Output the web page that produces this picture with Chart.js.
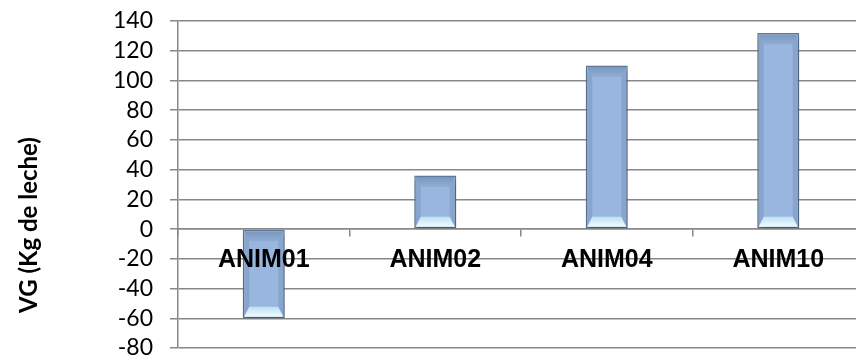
<!DOCTYPE html>
<html>
<head>
<meta charset="utf-8">
<script src="https://cdn.jsdelivr.net/npm/chart.js@4/dist/chart.umd.min.js"></script>
<style>
  html, body { margin: 0; padding: 0; background: #fff; overflow: hidden; }
  #wrap { position: relative; width: 870px; height: 358px; }
</style>
</head>
<body>
<div id="wrap"><canvas id="c"></canvas></div>
<script>
// Genetic value per animal
const animals = ['ANIM01', 'ANIM02', 'ANIM04', 'ANIM10'];
const vgValues = [-60, 36, 110, 132];
const yMin = -80;
const yMax = 140;
const yStep = 20;
const axisTitle = 'VG (Kg de leche)';

const gridColor = '#888888';

// Soft drop shadow under the bars, then a bevel on each bar's edges
const bevelBars = {
  id: 'bevelBars',
  beforeDatasetsDraw(chart) {
    const ctx = chart.ctx;
    ctx.save();
    ctx.shadowColor = 'rgba(0,0,0,0.30)';
    ctx.shadowBlur = 6;
    ctx.shadowOffsetX = 1;
    ctx.shadowOffsetY = 4;
  },
  afterDatasetsDraw(chart) {
    const ctx = chart.ctx;
    ctx.restore();
    const bw = 1.5;
    chart.getDatasetMeta(0).data.forEach(bar => {
      const p = bar.getProps(['x', 'y', 'base', 'width'], true);
      const left = p.x - p.width / 2 + bw, right = p.x + p.width / 2 - bw;
      const top = Math.min(p.y, p.base) + bw, bottom = Math.max(p.y, p.base) - bw;
      const d = Math.min(10, (bottom - top) / 3), s = 5;
      ctx.save();
      // side facets
      ctx.fillStyle = 'rgba(55,85,130,0.18)';
      ctx.beginPath();
      ctx.moveTo(left, top); ctx.lineTo(left + s, top + d);
      ctx.lineTo(left + s, bottom - d); ctx.lineTo(left, bottom);
      ctx.closePath(); ctx.fill();
      ctx.beginPath();
      ctx.moveTo(right, top); ctx.lineTo(right - s, top + d);
      ctx.lineTo(right - s, bottom - d); ctx.lineTo(right, bottom);
      ctx.closePath(); ctx.fill();
      // upper facet
      let g = ctx.createLinearGradient(0, top, 0, top + d);
      g.addColorStop(0, 'rgba(55,85,130,0.32)');
      g.addColorStop(1, 'rgba(55,85,130,0.10)');
      ctx.fillStyle = g;
      ctx.beginPath();
      ctx.moveTo(left, top); ctx.lineTo(right, top);
      ctx.lineTo(right - s, top + d); ctx.lineTo(left + s, top + d);
      ctx.closePath(); ctx.fill();
      // lower facet, catching the light
      g = ctx.createLinearGradient(0, bottom - d, 0, bottom);
      g.addColorStop(0, '#c0def4');
      g.addColorStop(1, '#f0fcff');
      ctx.fillStyle = g;
      ctx.beginPath();
      ctx.moveTo(left + s, bottom - d); ctx.lineTo(right - s, bottom - d);
      ctx.lineTo(right, bottom); ctx.lineTo(left, bottom);
      ctx.closePath(); ctx.fill();
      ctx.restore();
    });
  }
};

// Vertical axis title, placed beside the value axis
const sideTitle = {
  id: 'sideTitle',
  afterDraw(chart) {
    const ctx = chart.ctx;
    ctx.save();
    ctx.translate(29, 225);
    ctx.rotate(-Math.PI / 2);
    ctx.font = 'bold 24px Lato';
    ctx.fillStyle = '#000';
    ctx.textAlign = 'center';
    ctx.textBaseline = 'middle';
    ctx.fillText(axisTitle, 0, 0);
    ctx.restore();
  }
};

new Chart(document.getElementById('c'), {
  type: 'bar',
  data: {
    labels: animals,
    datasets: [{
      data: vgValues,
      backgroundColor: '#99b7de',
      borderColor: '#62799c',
      borderWidth: 1.5,
      borderSkipped: false,
      categoryPercentage: 1,
      barPercentage: 0.245
    }]
  },
  options: {
    responsive: true,
    maintainAspectRatio: false,
    animation: false,
    layout: { padding: { top: 21, bottom: 10, left: 0, right: 6 } },
    plugins: {
      legend: { display: false },
      tooltip: { enabled: false }
    },
    scales: {
      x: {
        position: { y: 0 },
        grid: {
          offset: true,
          drawOnChartArea: false,
          drawTicks: true,
          tickLength: 7,
          color: gridColor,
          lineWidth: 1.5
        },
        border: { display: true, color: gridColor, width: 1.5 },
        ticks: {
          z: 1,
          color: '#000',
          padding: 9,
          autoSkip: false,
          maxRotation: 0,
          font: { family: 'Liberation Sans', size: 25, weight: 'bold' }
        }
      },
      y: {
        min: yMin,
        max: yMax,
        grid: {
          color: gridColor,
          lineWidth: 1.5,
          tickLength: 8
        },
        border: { display: true, color: gridColor, width: 1.5 },
        ticks: {
          stepSize: yStep,
          autoSkip: false,
          color: '#000',
          padding: 17,
          font: { family: 'Lato', size: 23 }
        },
        afterFit(scale) {
          scale.width = 178;
          scale.paddingTop = 0;
          scale.paddingBottom = 0;
        }
      }
    }
  },
  plugins: [bevelBars, sideTitle]
});
</script>
</body>
</html>
